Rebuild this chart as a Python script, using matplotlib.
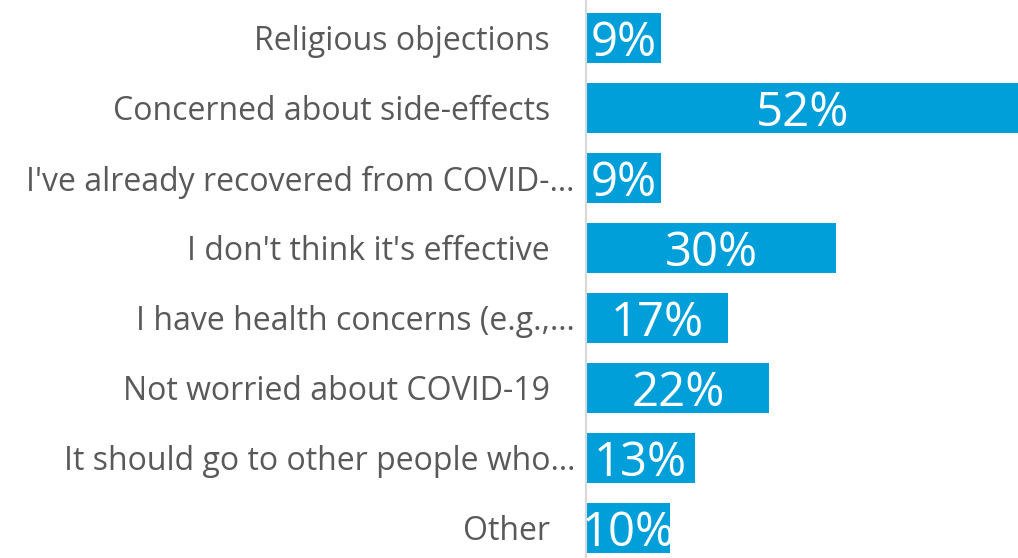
import matplotlib.pyplot as plt
from matplotlib.transforms import ScaledTranslation

categories = [
    "Religious objections",
    "Concerned about side-effects",
    "I've already recovered from COVID-\u2026",
    "I don't think it's effective",
    "I have health concerns (e.g.,\u2026",
    "Not worried about COVID-19",
    "It should go to other people who\u2026",
    "Other",
]
values = [9, 52, 9, 30, 17, 22, 13, 10]

BAR_COLOR = "#009FD9"
LABEL_COLOR = "#595959"

plt.rcParams["font.family"] = ["Open Sans", "DejaVu Sans"]

fig = plt.figure(figsize=(10.18, 5.58), dpi=100)
ax = fig.add_axes([586 / 1018, 0, 432 / 1018, 1])

ypos = list(range(len(categories)))
bars = ax.barh(ypos, values, height=0.71, color=BAR_COLOR, left=0.1)

for b, v in zip(bars, values):
    ax.text(b.get_x() + b.get_width() / 2, b.get_y() + b.get_height() / 2,
            f"{v}%", ha="center", va="center_baseline", color="white",
            fontsize=34, clip_on=False)

# category labels: truncated ones sit closer to the axis, like Excel does
ytrans = ax.get_yaxis_transform()
for y, cat in zip(ypos, categories):
    pad = 11 if cat.endswith("\u2026") else 36
    off = ScaledTranslation(-pad / 100, 0, fig.dpi_scale_trans)
    ax.text(0, y, cat, transform=ytrans + off, ha="right",
            va="center_baseline", fontsize=23, color=LABEL_COLOR)

ax.set_xlim(0, 52.1)
ax.set_ylim(7 + 30 / 70, -38 / 70)
ax.set_yticks([])
ax.set_xticks([])
for side in ["top", "right", "bottom"]:
    ax.spines[side].set_visible(False)
ax.spines["left"].set_color("#D9D9D9")
ax.spines["left"].set_linewidth(1.5)

fig.savefig("out.png", dpi=100)
